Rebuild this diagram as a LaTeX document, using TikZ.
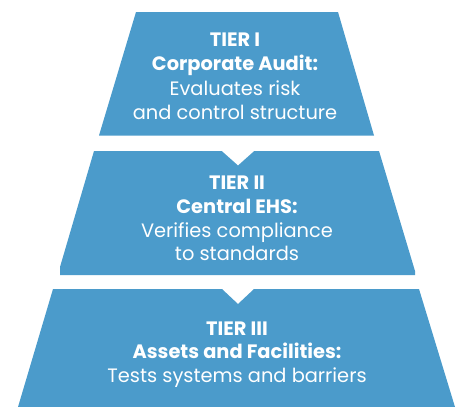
\documentclass[tikz,border=0pt]{standalone}
\usepackage{fontspec}
\setmainfont{Poppins}
\definecolor{tierblue}{HTML}{4B9BCB}
\begin{document}
\begin{tikzpicture}[x=1pt,y=-1pt,
  tier/.style={fill=tierblue,draw=none},
  headtxt/.style={text=white,anchor=base,inner sep=0pt,font=\fontsize{19.4}{22}\selectfont\bfseries},
  bodytxt/.style={text=white,anchor=base,inner sep=0pt,font=\fontsize{19.4}{22}\selectfont}]
\useasboundingbox (0,0) rectangle (461,407);
% tier shapes
\fill[tier] (136,12) -- (338,12) -- (374,135.5) -- (99,135.5) -- cycle;
\fill[tier] (94,151) -- (221.7,151) -- (238,165.5) -- (254.3,151) -- (379,151)
  -- (415,271) -- (415,275) -- (60,275) -- (60,267) -- cycle;
\fill[tier] (53,289) -- (222,289) -- (238,304) -- (254,289) -- (419,289)
  -- (455,407) -- (18,407) -- cycle;
% tier I text
\node[headtxt] (t1a) at (235,46.7) {TIER I};
\node[headtxt] (t1b) at (235,70.7) {Corporate Audit:};
\node[bodytxt] (t1c) at (235,95) {Evaluates risk};
\node[bodytxt] (t1d) at (235,119) {and control structure};
% tier II text
\node[headtxt] (t2a) at (237,189.3) {TIER II};
\node[headtxt] (t2b) at (237,213.3) {Central EHS:};
\node[bodytxt] (t2c) at (237,237.3) {Verifies compliance};
\node[bodytxt] (t2d) at (237,260.7) {to standards};
% tier III text
\node[headtxt] (t3a) at (237,335) {TIER III};
\node[headtxt] (t3b) at (237,358.3) {Assets and Facilities:};
\node[bodytxt] (t3c) at (237,382.3) {Tests systems and barriers};
\end{tikzpicture}
\end{document}
